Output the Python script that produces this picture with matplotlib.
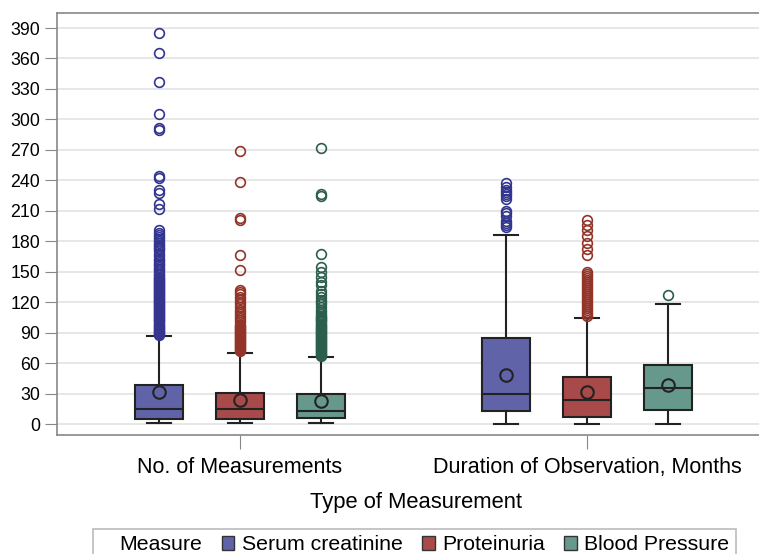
import matplotlib
matplotlib.use("Agg")
import matplotlib.pyplot as plt
from matplotlib.patches import Patch

plt.rcParams['font.family'] = ['Liberation Sans', 'DejaVu Sans']

# Data
categories = ["No. of Measurements", "Duration of Observation, Months"]
measures = ["Serum creatinine", "Proteinuria", "Blood Pressure"]
fill_colors = ["#6063a8", "#a84a4a", "#66998b"]
flier_colors = ["#33358f", "#923428", "#2c5e4e"]

# summary per [category][measure]: whislo, q1, med, q3, whishi, mean
whislo = [[1, 1, 1], [0, 0, 0]]
q1 = [[5, 5, 6], [13, 7, 14]]
med = [[15, 15, 13], [30, 24, 35]]
q3 = [[38, 31, 30], [85, 46, 58]]
whishi = [[87, 70, 66], [186, 104, 118]]
means = [[32, 24, 23], [48, 32, 38]]

out_count_sc = [88, 89, 90, 91, 92, 93, 94, 95, 96, 97, 98, 99, 100, 101, 102, 103,
                104, 105, 106, 107, 108, 109, 110, 111, 112, 113, 114, 115, 116, 117,
                118, 119, 120, 121, 122, 123, 124, 125, 126, 127, 128, 129, 130, 131,
                132, 133, 134, 135, 136, 137, 138, 139, 140, 141, 142, 143, 144, 145,
                147, 148, 150, 152, 153, 155, 157, 158, 160, 162, 163, 165, 167, 170,
                172, 173, 175, 176, 178, 180, 182, 184, 186, 188, 191, 212, 217, 228,
                230, 242, 244, 290, 292, 305, 337, 365, 385]
out_count_pr = [72, 73, 74, 75, 76, 77, 78, 79, 80, 81, 82, 83, 84, 85, 86, 87, 88,
                89, 90, 91, 92, 93, 94, 95, 96, 97, 98, 100, 102, 104, 106, 108, 110,
                112, 115, 118, 120, 123, 125, 128, 130, 132, 152, 166, 201, 203, 238, 269]
out_count_bp = [67, 68, 69, 70, 71, 72, 73, 74, 75, 76, 77, 78, 79, 80, 81, 82, 83,
                84, 85, 86, 87, 88, 89, 90, 91, 92, 93, 94, 95, 96, 97, 98, 99, 100,
                101, 102, 103, 104, 105, 106, 108, 110, 112, 115, 118, 120, 122, 125,
                128, 131, 137, 140, 145, 150, 155, 167, 225, 227, 272]
out_dur_sc = [194, 196, 198, 200, 205, 208, 210, 222, 225, 227, 229, 230, 233, 237]
out_dur_pr = [106, 108, 110, 112, 114, 116, 118, 120, 122, 124, 126, 128, 130, 132,
              134, 136, 138, 140, 142, 144, 146, 148, 150, 166, 172, 178, 185, 191,
              196, 201]
out_dur_bp = [127]
outliers = [[out_count_sc, out_count_pr, out_count_bp],
            [out_dur_sc, out_dur_pr, out_dur_bp]]

fig = plt.figure(figsize=(7.59, 5.54), dpi=100)
# the plot area runs a little past the right edge of the picture
ax = fig.add_axes([57 / 759, 1 - 435 / 554, 718 / 759, 422 / 554])

offsets = [-0.233, 0.0, 0.233]
box_w = 0.138

for c in range(len(categories)):
    for m in range(len(measures)):
        stats = [dict(whislo=whislo[c][m], q1=q1[c][m], med=med[c][m], q3=q3[c][m],
                      whishi=whishi[c][m], mean=means[c][m], fliers=outliers[c][m])]
        ax.bxp(stats, positions=[c + offsets[m]], widths=box_w, patch_artist=True,
               showmeans=True, manage_ticks=False,
               boxprops=dict(facecolor=fill_colors[m], edgecolor="#222222", linewidth=1.5),
               medianprops=dict(color="#222222", linewidth=1.5),
               whiskerprops=dict(color="#222222", linewidth=1.5),
               capprops=dict(color="#222222", linewidth=1.5),
               meanprops=dict(marker="o", markerfacecolor="none", markeredgecolor="#222222",
                              markersize=9, markeredgewidth=1.5),
               flierprops=dict(marker="o", markerfacecolor="none",
                               markeredgecolor=flier_colors[m], markersize=7,
                               markeredgewidth=1.2),
               zorder=3)

ax.set_xlim(-0.527, 1.542)
ax.set_ylim(-10.8, 404.8)
ax.set_yticks(range(0, 391, 30))
ax.set_xticks(range(len(categories)))
ax.set_xticklabels(categories, fontsize=15.5)
ax.tick_params(axis='y', labelsize=12.8, length=9, color="#888888", pad=3)
ax.tick_params(axis='x', length=10, color="#888888", pad=6)
ax.grid(axis='y', color="#e3e3e3", linewidth=1.2, zorder=0)
ax.set_axisbelow(True)
for s in ax.spines.values():
    s.set_color("#888888")
    s.set_linewidth(1.2)
ax.set_xlabel("Type of Measurement", fontsize=15.8, labelpad=10)

handles = [Patch(visible=False)] + [Patch(facecolor=fill_colors[i], edgecolor="#333333")
                                     for i in range(3)]
labels = ["Measure"] + measures
leg = fig.legend(handles, labels, loc='upper center', bbox_to_anchor=(0.546, 1 - 529 / 554),
                 ncol=4, fontsize=15.3, frameon=True, fancybox=False, edgecolor="#aaaaaa",
                 handlelength=0.6, handleheight=0.6, handletextpad=0.35,
                 columnspacing=0.9, borderpad=0.3, borderaxespad=0)
leg.get_frame().set_linewidth(1.2)

fig.savefig("out.png", dpi=100)
